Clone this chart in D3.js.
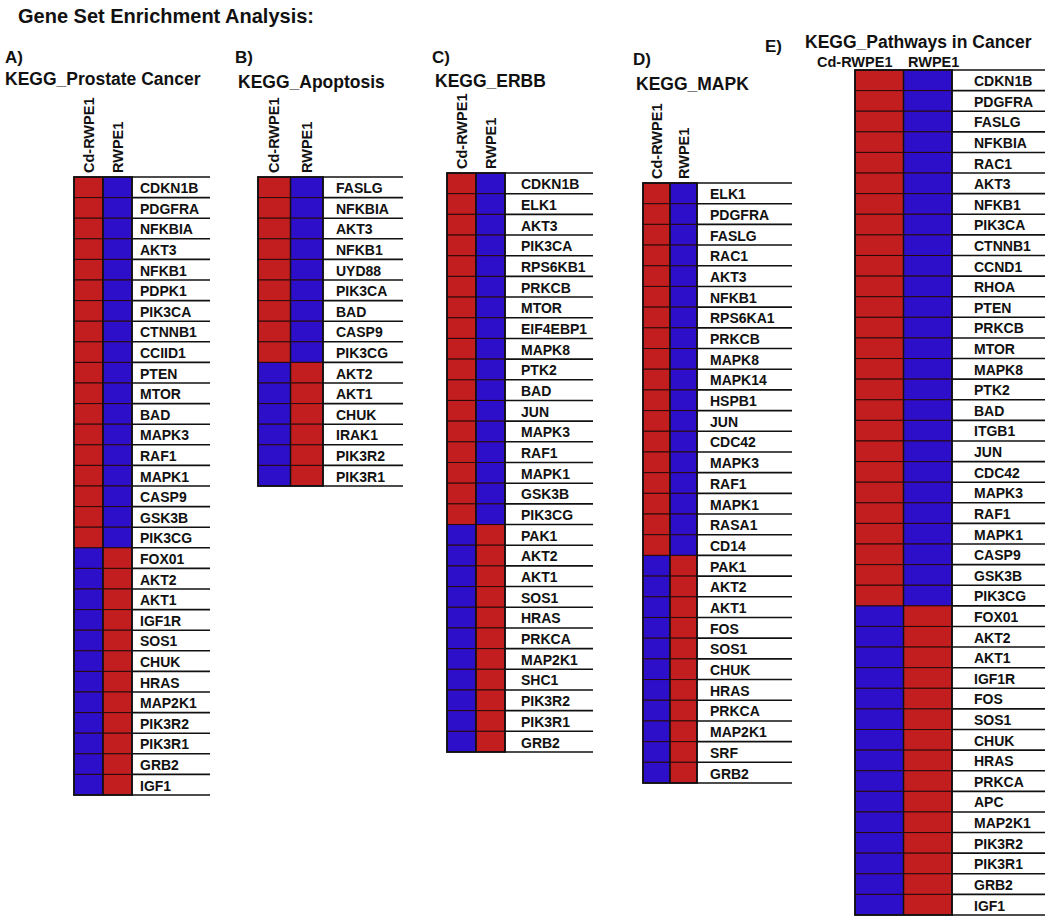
<!DOCTYPE html>
<html>
<head>
<meta charset="utf-8">
<script src="https://cdn.jsdelivr.net/npm/d3@7"></script>
<style>
  body { margin: 0; background: #fff; }
  svg { display: block; }
  text { font-family: "Liberation Sans", Arial, Helvetica, sans-serif; font-weight: bold; fill: #111; }
</style>
</head>
<body>
<div id="chart"></div>
<script>
// ---------------- DATA ----------------
const columns = ["Cd-RWPE1", "RWPE1"];

// Panel A: KEGG_Prostate Cancer
const genesA = ["CDKN1B","PDGFRA","NFKBIA","AKT3","NFKB1","PDPK1","PIK3CA","CTNNB1","CCIID1","PTEN","MTOR","BAD","MAPK3","RAF1","MAPK1","CASP9","GSK3B","PIK3CG","FOX01","AKT2","AKT1","IGF1R","SOS1","CHUK","HRAS","MAP2K1","PIK3R2","PIK3R1","GRB2","IGF1"];
const cdA   = [1,1,1,1,1,1,1,1,1,1,1,1,1,1,1,1,1,1,-1,-1,-1,-1,-1,-1,-1,-1,-1,-1,-1,-1];
const rwA   = [-1,-1,-1,-1,-1,-1,-1,-1,-1,-1,-1,-1,-1,-1,-1,-1,-1,-1,1,1,1,1,1,1,1,1,1,1,1,1];

// Panel B: KEGG_Apoptosis
const genesB = ["FASLG","NFKBIA","AKT3","NFKB1","UYD88","PIK3CA","BAD","CASP9","PIK3CG","AKT2","AKT1","CHUK","IRAK1","PIK3R2","PIK3R1"];
const cdB   = [1,1,1,1,1,1,1,1,1,-1,-1,-1,-1,-1,-1];
const rwB   = [-1,-1,-1,-1,-1,-1,-1,-1,-1,1,1,1,1,1,1];

// Panel C: KEGG_ERBB
const genesC = ["CDKN1B","ELK1","AKT3","PIK3CA","RPS6KB1","PRKCB","MTOR","EIF4EBP1","MAPK8","PTK2","BAD","JUN","MAPK3","RAF1","MAPK1","GSK3B","PIK3CG","PAK1","AKT2","AKT1","SOS1","HRAS","PRKCA","MAP2K1","SHC1","PIK3R2","PIK3R1","GRB2"];
const cdC   = [1,1,1,1,1,1,1,1,1,1,1,1,1,1,1,1,1,-1,-1,-1,-1,-1,-1,-1,-1,-1,-1,-1];
const rwC   = [-1,-1,-1,-1,-1,-1,-1,-1,-1,-1,-1,-1,-1,-1,-1,-1,-1,1,1,1,1,1,1,1,1,1,1,1];

// Panel D: KEGG_MAPK
const genesD = ["ELK1","PDGFRA","FASLG","RAC1","AKT3","NFKB1","RPS6KA1","PRKCB","MAPK8","MAPK14","HSPB1","JUN","CDC42","MAPK3","RAF1","MAPK1","RASA1","CD14","PAK1","AKT2","AKT1","FOS","SOS1","CHUK","HRAS","PRKCA","MAP2K1","SRF","GRB2"];
const cdD   = [1,1,1,1,1,1,1,1,1,1,1,1,1,1,1,1,1,1,-1,-1,-1,-1,-1,-1,-1,-1,-1,-1,-1];
const rwD   = [-1,-1,-1,-1,-1,-1,-1,-1,-1,-1,-1,-1,-1,-1,-1,-1,-1,-1,1,1,1,1,1,1,1,1,1,1,1];

// Panel E: KEGG_Pathways in Cancer
const genesE = ["CDKN1B","PDGFRA","FASLG","NFKBIA","RAC1","AKT3","NFKB1","PIK3CA","CTNNB1","CCND1","RHOA","PTEN","PRKCB","MTOR","MAPK8","PTK2","BAD","ITGB1","JUN","CDC42","MAPK3","RAF1","MAPK1","CASP9","GSK3B","PIK3CG","FOX01","AKT2","AKT1","IGF1R","FOS","SOS1","CHUK","HRAS","PRKCA","APC","MAP2K1","PIK3R2","PIK3R1","GRB2","IGF1"];
const cdE   = [1,1,1,1,1,1,1,1,1,1,1,1,1,1,1,1,1,1,1,1,1,1,1,1,1,1,-1,-1,-1,-1,-1,-1,-1,-1,-1,-1,-1,-1,-1,-1,-1];
const rwE   = [-1,-1,-1,-1,-1,-1,-1,-1,-1,-1,-1,-1,-1,-1,-1,-1,-1,-1,-1,-1,-1,-1,-1,-1,-1,-1,1,1,1,1,1,1,1,1,1,1,1,1,1,1,1];

const mainTitle = "Gene Set Enrichment Analysis:";
const panelLetters = ["A)","B)","C)","D)","E)"];
const panelTitles = ["KEGG_Prostate Cancer","KEGG_Apoptosis","KEGG_ERBB","KEGG_MAPK","KEGG_Pathways in Cancer"];

// ---------------- LAYOUT ----------------
const W = 1050, H = 920;
const panels = [
  { genes: genesA, cd: cdA, rw: rwA, letter: panelLetters[0], title: panelTitles[0],
    hx0: 74, hx1: 132, top: 177, bottom: 795, lx1: 210, tx: 140,
    letterX: 5, letterY: 63, titleX: 5, titleY: 85, colRot: true },
  { genes: genesB, cd: cdB, rw: rwB, letter: panelLetters[1], title: panelTitles[1],
    hx0: 258, hx1: 323, top: 177, bottom: 486, lx1: 403, tx: 336,
    letterX: 235, letterY: 63, titleX: 238, titleY: 88, colRot: true },
  { genes: genesC, cd: cdC, rw: rwC, letter: panelLetters[2], title: panelTitles[2],
    hx0: 447, hx1: 505, top: 173, bottom: 752, lx1: 593, tx: 521,
    letterX: 432, letterY: 63, titleX: 435, titleY: 87, colRot: true },
  { genes: genesD, cd: cdD, rw: rwD, letter: panelLetters[3], title: panelTitles[3],
    hx0: 643, hx1: 697, top: 183, bottom: 783, lx1: 792, tx: 710,
    letterX: 633, letterY: 65, titleX: 636, titleY: 90, colRot: true },
  { genes: genesE, cd: cdE, rw: rwE, letter: panelLetters[4], title: panelTitles[4],
    hx0: 855, hx1: 952, top: 70, bottom: 915, lx1: 1045, tx: 974,
    letterX: 765, letterY: 52, titleX: 805, titleY: 48, colRot: false }
];

const color = d3.scaleOrdinal().domain([1, -1]).range(["#c21d1f", "#2d0fc9"]);

const svg = d3.select("#chart").append("svg").attr("width", W).attr("height", H);

svg.append("text").attr("x", 18).attr("y", 23).attr("font-size", 20).text(mainTitle);

panels.forEach(p => {
  const g = svg.append("g");
  const x = d3.scaleBand().domain(columns).range([p.hx0, p.hx1]).padding(0);
  const y = d3.scaleBand().domain(p.genes).range([p.top, p.bottom]).padding(0);
  const cells = [];
  p.genes.forEach((gene, i) => {
    cells.push({ gene, col: columns[0], v: p.cd[i] });
    cells.push({ gene, col: columns[1], v: p.rw[i] });
  });

  // titles
  g.append("text").attr("x", p.letterX).attr("y", p.letterY).attr("font-size", 17).text(p.letter);
  g.append("text").attr("x", p.titleX).attr("y", p.titleY).attr("font-size", 17.5).text(p.title);

  // column labels
  if (p.colRot) {
    g.selectAll("text.col").data(columns).join("text")
      .attr("class", "col")
      .attr("font-size", 14.5)
      .attr("transform", c => `translate(${x(c) + x.bandwidth() / 2 + 5},${p.top - 4}) rotate(-90)`)
      .attr("text-anchor", "start")
      .text(c => c);
  } else {
    g.selectAll("text.col").data(columns).join("text")
      .attr("class", "col")
      .attr("font-size", 14.5)
      .attr("x", (c, i) => i === 0 ? 817 : 908)
      .attr("y", 67)
      .text(c => c);
  }

  // heatmap cells
  g.selectAll("rect.cell").data(cells).join("rect")
    .attr("class", "cell")
    .attr("x", d => x(d.col))
    .attr("y", d => y(d.gene))
    .attr("width", x.bandwidth())
    .attr("height", y.bandwidth())
    .attr("fill", d => color(d.v))
    .attr("stroke", "#2a0a0a")
    .attr("stroke-width", 1);

  // heatmap outer border and column divider
  g.append("rect").attr("x", p.hx0).attr("y", p.top)
    .attr("width", p.hx1 - p.hx0).attr("height", p.bottom - p.top)
    .attr("fill", "none").attr("stroke", "#111").attr("stroke-width", 1.8);
  g.append("line").attr("x1", x(columns[1])).attr("x2", x(columns[1]))
    .attr("y1", p.top).attr("y2", p.bottom).attr("stroke", "#111").attr("stroke-width", 1.5);

  // label lines (top + each row bottom)
  const bounds = [p.top].concat(p.genes.map(gn => y(gn) + y.bandwidth()));
  g.selectAll("line.sep").data(bounds).join("line")
    .attr("class", "sep")
    .attr("x1", p.hx1).attr("x2", p.lx1)
    .attr("y1", d => d).attr("y2", d => d)
    .attr("stroke", "#111").attr("stroke-width", 1.6);

  // gene labels
  g.selectAll("text.gene").data(p.genes).join("text")
    .attr("class", "gene")
    .attr("x", p.tx)
    .attr("y", gn => y(gn) + y.bandwidth() - 4.5)
    .attr("font-size", 14)
    .text(gn => gn);
});
</script>
</body>
</html>
